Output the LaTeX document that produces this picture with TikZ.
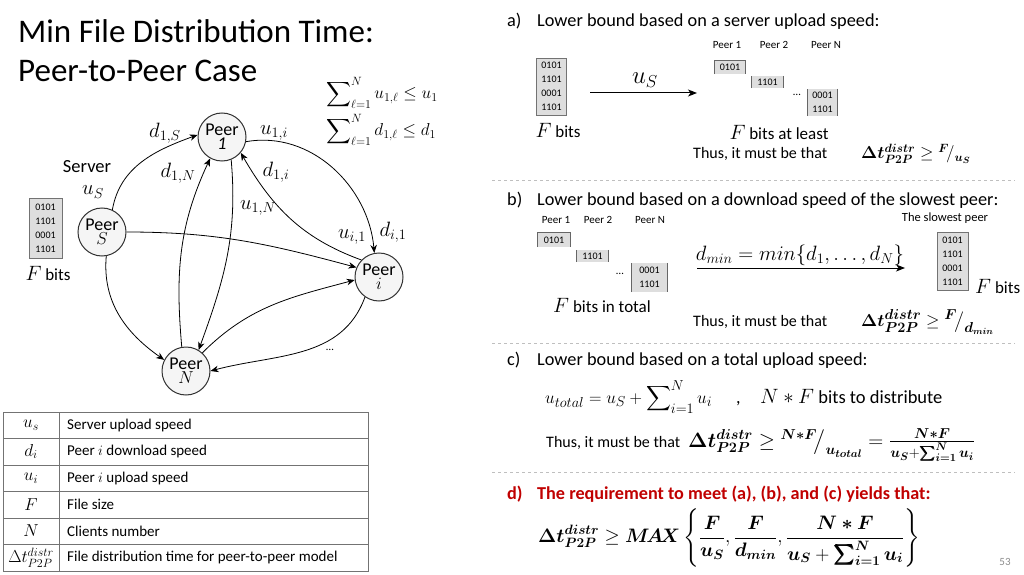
\documentclass[tikz,border=0pt]{standalone}
\usepackage{amsmath,bm,graphicx}
\usepackage[no-math]{fontspec}
\setmainfont{Carlito}
\usetikzlibrary{arrows.meta}
\definecolor{redd}{RGB}{192,0,0}
\definecolor{boxgray}{RGB}{222,222,222}
\tikzset{
  peer/.style={circle, draw=black!80, fill=gray!8, line width=1pt, minimum size=48pt, inner sep=0pt, align=center, font=\fontsize{18}{16}\selectfont},
  edge/.style={-{Stealth[length=8pt,width=6.5pt,inset=2.5pt]}, line width=0.8pt},
  lbl/.style={font=\fontsize{20}{20}\selectfont, inner sep=0pt},
  txt/.style={font=\fontsize{17}{17}\selectfont, inner sep=0pt},
  htxt/.style={font=\fontsize{18.3}{18}\selectfont, inner sep=0pt, anchor=base west},
  thus/.style={font=\fontsize{16}{16}\selectfont, inner sep=0pt, anchor=base west},
  small/.style={font=\fontsize{11}{11}\selectfont, inner sep=0pt, anchor=base},
  databox/.style={draw=black!55, fill=boxgray, line width=0.8pt, inner sep=0pt, align=center, font=\fontsize{10}{14}\selectfont},
  smallbox/.style={fill=boxgray, inner sep=0pt, align=center, font=\fontsize{10}{14}\selectfont},
  bar/.style={draw=black!60, line width=0.8pt},
  sep/.style={draw=black!25, dashed, line width=0.8pt},
  tbl/.style={draw=black!55, line width=0.8pt},
  ttxt/.style={font=\fontsize{15}{15}\selectfont, inner sep=0pt, anchor=west},
  tmath/.style={font=\fontsize{17}{17}\selectfont, inner sep=0pt},
  arr/.style={-{Stealth[length=9pt,width=7pt,inset=2.5pt]}, line width=1pt}
}
\begin{document}
\begin{tikzpicture}[x=1pt,y=1pt]
\useasboundingbox (0,0) rectangle (1024,574);
% title
\node[anchor=base west, inner sep=0pt, font=\fontsize{33}{33}\selectfont] (t1) at (18,531) {Min File Distribution Time:};
\node[anchor=base west, inner sep=0pt, font=\fontsize{33}{33}\selectfont] (t2) at (18,492) {Peer-to-Peer Case};
% sums
\node[anchor=west, inner sep=0pt, font=\fontsize{16.5}{16}\selectfont] (s1) at (326,481) {$\displaystyle\sum\nolimits_{\ell=1}^{N} u_{1,\ell}\le u_1$};
\node[anchor=west, inner sep=0pt, font=\fontsize{16.5}{16}\selectfont] (s2) at (326,444) {$\displaystyle\sum\nolimits_{\ell=1}^{N} d_{1,\ell}\le d_1$};
% peers
\node[peer] (p1) at (222,437) {Peer\\[-2pt]\textit{1}};
\node[peer] (pS) at (102,342) {Peer\\[-2pt]$S$};
\node[peer] (pi) at (379,297) {Peer\\[-2pt]$i$};
\node[peer] (pN) at (186,203) {Peer\\[-2pt]$N$};
% edges
\draw[edge] (pS.65) to[out=80,in=200] (p1.175);
\draw[edge] (pS.east) to[out=0,in=165] (pi.157);
\draw[edge] (pS.280) to[out=265,in=145] (pN.153);
\draw[edge] (pN.100) to[out=95,in=245] (p1.241);
\draw[edge] (p1.292) to[out=275,in=70] (pN.59);
\draw[edge] (p1.-11) to[out=10,in=95] (pi.101);
\draw[edge] (pi.136) to[out=160,in=300] (p1.320);
\draw[edge] (pN.48) to[out=45,in=195] (pi.187);
\draw[edge] (pi.235) to[out=250,in=15] (pN.0);
% edge labels
\node[lbl] (ld1S) at (165,441) {$d_{1,S}$};
\node[lbl] (lu1i) at (274,441) {$u_{1,i}$};
\node[txt, font=\fontsize{18.5}{18}\selectfont] (lserver) at (87,407) {Server};
\node[lbl] (luS) at (93,382) {$u_S$};
\node[lbl] (ld1N) at (178,401) {$d_{1,N}$};
\node[lbl] (ld1i) at (276,402) {$d_{1,i}$};
\node[lbl] (lu1N) at (258,366) {$u_{1,N}$};
\node[lbl] (lui1) at (352,337) {$u_{i,1}$};
\node[lbl] (ldi1) at (393,342) {$d_{i,1}$};
\node[small] (ldots) at (330,224) {\dots};
% left data box
\node[databox, minimum width=33pt, minimum height=60pt] (fbox) at (45.5,346) {0101\\1101\\0001\\1101};
\node[txt] (fbits) at (48,301) {{\fontsize{20}{20}\selectfont$F$} bits};
% table
\draw[tbl] (3,3) rectangle (368,162);
\foreach \yy in {136,109,83,56,30} \draw[tbl] (3,\yy) -- (368,\yy);
\draw[tbl] (59,3) -- (59,162);
\node[tmath] (r1a) at (31,149) {$u_s$};
\node[tmath] (r2a) at (31,122.5) {$d_i$};
\node[tmath] (r3a) at (31,96) {$u_i$};
\node[tmath] (r4a) at (31,69.5) {$F$};
\node[tmath] (r5a) at (31,43) {$N$};
\node[tmath] (r6a) at (31,16.5) {$\Delta t_{P2P}^{distr}$};
\node[ttxt] (r1b) at (67,149) {Server upload speed};
\node[ttxt] (r2b) at (67,122.5) {Peer $i$ download speed};
\node[ttxt] (r3b) at (67,96) {Peer $i$ upload speed};
\node[ttxt] (r4b) at (67,69.5) {File size};
\node[ttxt] (r5b) at (67,43) {Clients number};
\node[ttxt] (r6b) at (67,16.5) {File distribution time for peer-to-peer model};
% separators
\draw[sep] (492,394) -- (1015,394);
\draw[sep] (492,231) -- (1015,231);
\draw[sep] (492,102) -- (1015,102);
% ---- section a
\node[htxt] (la) at (507,547) {a)};
\node[htxt] (la2) at (537,547) {Lower bound based on a server upload speed:};
\node[small] (ap1) at (727,525) {Peer 1};
\node[small] (ap2) at (774,525) {Peer 2};
\node[small] (apN) at (826,525) {Peer N};
\node[databox, minimum width=30pt, minimum height=57pt] (abox) at (551.5,487.5) {0101\\1101\\0001\\1101};
\node[txt] (afbits) at (558,444) {{\fontsize{20}{20}\selectfont$F$} bits};
\coordinate (aA) at (590,481);
\coordinate (aB) at (697,481);
\draw[arr] (aA) -- (aB);
\node[lbl, font=\fontsize{26}{26}\selectfont] (auS) at (645,494) {$u_S$};
\node[smallbox, minimum width=30pt, minimum height=13pt] (a1) at (730,506.5) {0101};
\draw[bar] (a1.south west) -- (a1.north west) -- (a1.north east) -- (a1.south east);
\node[smallbox, minimum width=31pt, minimum height=12pt] (a2) at (767.5,492) {1101};
\draw[bar] (a2.south west) -- (a2.north west) (a2.north east) -- (a2.south east);
\node[small] (adots) at (797,478) {\dots};
\node[smallbox, minimum width=29pt, minimum height=27pt] (aN) at (822.5,471.5) {0001\\1101};
\draw[bar] (aN.south west) -- (aN.north west) (aN.north east) -- (aN.south east);
\node[txt] (aleast) at (779,442) {{\fontsize{20}{20}\selectfont$F$} bits at least};
\node[thus] (athus) at (693,415) {Thus, it must be that};
\node[anchor=base west, inner sep=0pt, font=\fontsize{18}{18}\selectfont] (aform) at (861,415) {$\bm{\Delta t^{distr}_{P2P}} \ge {}^{\bm{F}}\!/_{\bm{u_S}}$};
% ---- section b
\node[htxt] (lb) at (507,369) {b)};
\node[htxt] (lb2) at (537,369) {Lower bound based on a download speed of the slowest peer:};
\node[small] (bp1) at (556,351) {Peer 1};
\node[small] (bp2) at (598,351) {Peer 2};
\node[small] (bpN) at (650,351) {Peer N};
\node[smallbox, minimum width=32pt, minimum height=14pt] (b1) at (554,334) {0101};
\draw[bar] (b1.south west) -- (b1.north west) -- (b1.north east) -- (b1.south east);
\node[smallbox, minimum width=31pt, minimum height=12pt] (b2) at (592.5,318) {1101};
\draw[bar] (b2.south west) -- (b2.north west) (b2.north east) -- (b2.south east);
\node[small] (bdots) at (620,300) {\dots};
\node[smallbox, minimum width=35pt, minimum height=29pt] (bN) at (649.5,296.5) {0001\\1101};
\draw[bar] (bN.south west) -- (bN.north west) (bN.north east) -- (bN.south east);
\node[txt, anchor=base] (btotal) at (602,262) {{\fontsize{20}{20}\selectfont$F$} bits in total};
\coordinate (bA) at (697,306);
\coordinate (bB) at (905,306);
\draw[arr] (bA) -- (bB);
\node[lbl] (bdmin) at (800,319) {$d_{min} = min\{d_1,\dots,d_N\}$};
\node[small, font=\fontsize{12.5}{12}\selectfont] (bslow) at (945,353) {The slowest peer};
\node[databox, minimum width=31pt, minimum height=58pt] (bbox) at (952.5,313) {0101\\1101\\0001\\1101};
\node[txt, anchor=base west] (bfbits) at (975,281) {{\fontsize{20}{20}\selectfont$F$} bits};
\node[thus] (bthus) at (693,248) {Thus, it must be that};
\node[anchor=base west, inner sep=0pt, font=\fontsize{19}{19}\selectfont] (bform) at (861,248) {$\bm{\Delta t^{distr}_{P2P}} \ge {}^{\bm{F}}\!\big/_{\bm{d_{min}}}$};
% ---- section c
\node[htxt] (lc) at (507,209) {c)};
\node[htxt] (lc2) at (537,209) {Lower bound based on a total upload speed:};
\node[anchor=base west, inner sep=0pt, font=\fontsize{19}{19}\selectfont] (cform1) at (545,171) {$u_{total} = u_S + \displaystyle\sum\nolimits_{i=1}^{N} u_i$};
\node[anchor=base west, inner sep=0pt, font=\fontsize{18}{18}\selectfont] (ccomma) at (736,171) {,};
\node[anchor=base west, inner sep=0pt, font=\fontsize{18.5}{18}\selectfont] (cNF) at (760,171) {{\fontsize{20}{20}\selectfont$N*F$} bits to distribute};
\node[thus] (cthus) at (546,127) {Thus, it must be that};
\node[anchor=base west, inner sep=0pt, font=\fontsize{21}{21}\selectfont] (cform) at (688,127) {$\bm{\Delta t^{distr}_{P2P}} \ge {}^{\bm{N*F}}\!\big/_{\bm{u_{total}}} = \frac{\bm{N*F}}{\bm{u_S}+\bm{\sum}_{\bm{i=1}}^{\bm{N}}\bm{u_i}}$};
% ---- section d
\node[htxt, text=redd, font=\fontsize{18.2}{18}\selectfont\bfseries] (ld) at (507,75) {d)};
\node[htxt, text=redd, font=\fontsize{18.2}{18}\selectfont\bfseries] (ld2) at (537,75) {The requirement to meet (a), (b), and (c) yields that:};
\node[inner sep=0pt, font=\fontsize{19.3}{19}\selectfont] (dform) at (729,36) {\scalebox{0.94}{$\displaystyle \bm{\Delta t^{distr}_{P2P}} \ge \bm{M\!A\!X}\left\{\frac{\bm{F}}{\bm{u_S}},\frac{\bm{F}}{\bm{d_{min}}},\frac{\bm{N*F}}{\bm{u_S}+\bm{\sum}\nolimits_{\bm{i=1}}^{\bm{N}}\bm{u_i}}\right\}$}};
\node[small, text=black!45, anchor=center] (pg) at (1005,12) {53};
\end{tikzpicture}
\end{document}
